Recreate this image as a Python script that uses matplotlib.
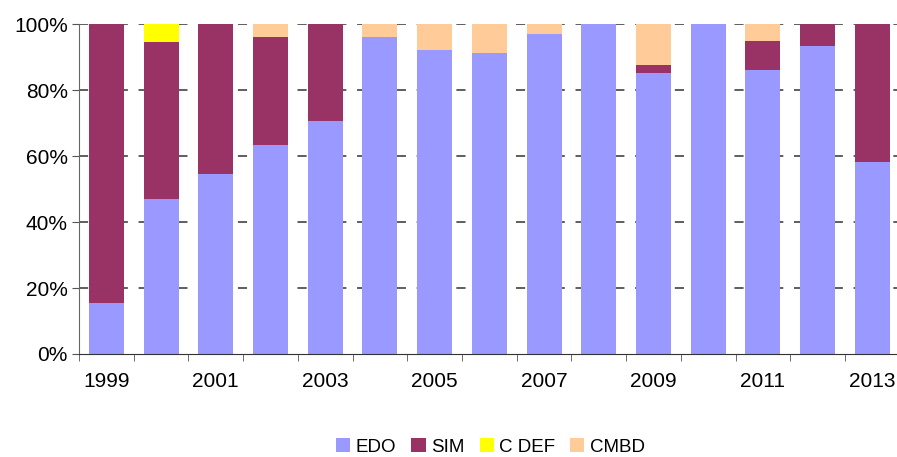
import numpy as np
import matplotlib.pyplot as plt
from matplotlib.ticker import FixedLocator, PercentFormatter

plt.rcParams['font.family'] = ['Liberation Sans', 'DejaVu Sans']

years = np.arange(1999, 2014)
edo = [15.5, 47.0, 54.6, 63.3, 70.6, 96.1, 92.1, 91.2, 97.0, 100.0, 85.2, 100.0, 86.1, 93.3, 58.2]
sim = [84.5, 47.5, 45.4, 32.8, 29.4, 0.0, 0.0, 0.0, 0.0, 0.0, 2.4, 0.0, 8.7, 6.7, 41.8]
cdef = [0.0, 5.5, 0.0, 0.0, 0.0, 0.0, 0.0, 0.0, 0.0, 0.0, 0.0, 0.0, 0.0, 0.0, 0.0]
cmbd = [0.0, 0.0, 0.0, 3.9, 0.0, 3.9, 7.9, 8.8, 3.0, 0.0, 12.4, 0.0, 5.2, 0.0, 0.0]
yticks = [0, 20, 40, 60, 80, 100]

series = [('EDO', edo, '#9999FF'), ('SIM', sim, '#993366'),
          ('C DEF', cdef, '#FFFF00'), ('CMBD', cmbd, '#FFCC99')]

fig = plt.figure(figsize=(8.97, 4.57), dpi=100)
ax = fig.add_axes([0.088, 0.2254, 0.915, 0.722])

x = np.arange(len(years))
bottom = np.zeros(len(years))
for name, vals, col in series:
    vals = np.array(vals)
    ax.bar(x, vals, 0.64, bottom=bottom, color=col, label=name, zorder=3)
    bottom += vals

ax.set_xlim(-0.5, len(years) - 0.5)
ax.set_ylim(0, 100)
ax.yaxis.set_major_locator(FixedLocator(yticks))
ax.yaxis.set_major_formatter(PercentFormatter(decimals=0))

# lineas de guia punteadas detras de las barras
ax.hlines(yticks[1:], -0.5, len(years) - 0.5, colors='#333333',
          linestyles=[(0, (6, 7))], linewidth=1.1, zorder=1)

ax.set_xticks(x[::2])
ax.set_xticklabels([str(y) for y in years[::2]])
ax.set_xticks(np.arange(-0.5, len(years), 1), minor=True)
ax.tick_params(axis='x', which='major', length=0, pad=13, labelsize=15)
ax.tick_params(axis='x', which='minor', length=5, color='#555555')
ax.tick_params(axis='y', length=5, color='#555555', labelsize=15, pad=3)

for s in ['top', 'right']:
    ax.spines[s].set_visible(False)
ax.spines['left'].set_color('#666666')
ax.spines['bottom'].set_color('#333333')
ax.spines['left'].set_zorder(4)
ax.spines['bottom'].set_zorder(4)

fig.legend(loc='center', bbox_to_anchor=(0.547, 0.022), ncol=4, frameon=False,
           fontsize=13.5, handlelength=0.75, handleheight=0.75, handletextpad=0.3,
           columnspacing=0.8)

fig.savefig('out.png', dpi=100)
